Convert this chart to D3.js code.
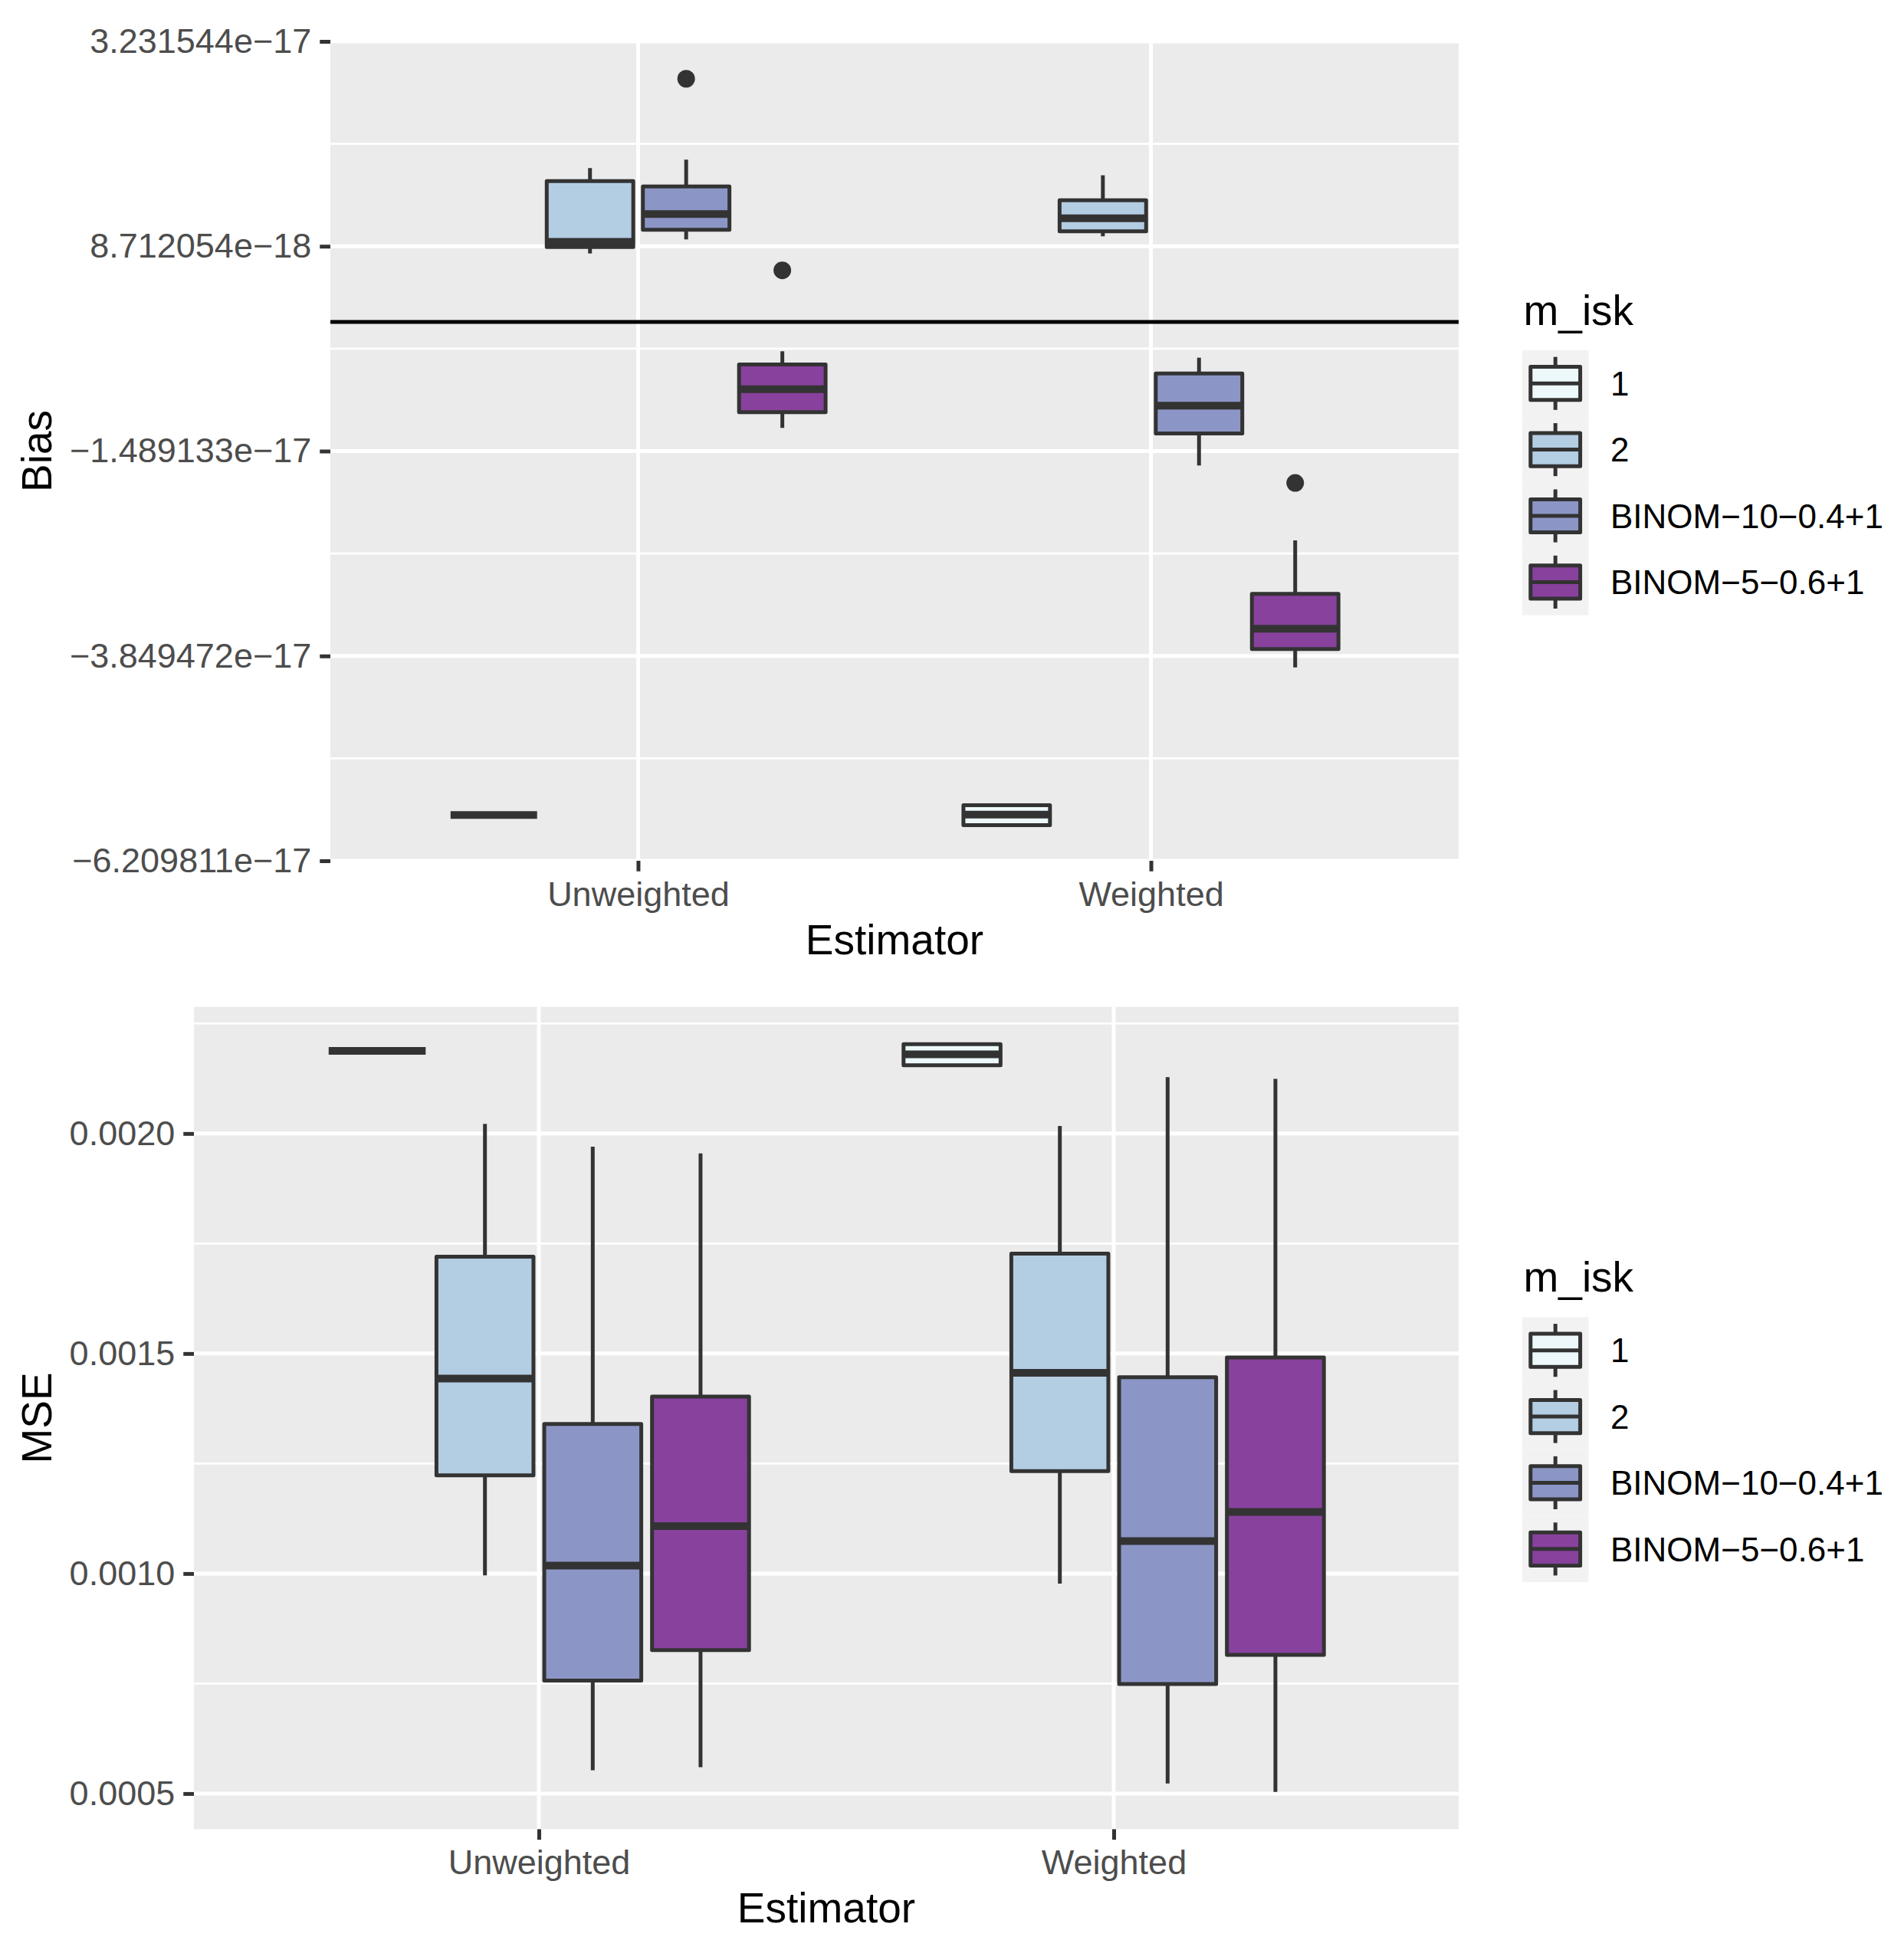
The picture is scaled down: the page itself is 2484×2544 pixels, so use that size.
<!DOCTYPE html>
<html>
<head>
<meta charset="utf-8">
<script src="https://cdn.jsdelivr.net/npm/d3@7"></script>
<style>
  body { margin: 0; background: #fff; }
  text { font-family: "Liberation Sans", Arial, Helvetica, sans-serif; }
</style>
</head>
<body>
<div id="container"></div>
<script>
// categories
const estimators = ["Unweighted", "Weighted"];
const mIsk = ["1", "2", "BINOM\u221210\u22120.4+1", "BINOM\u22125\u22120.6+1"];
const palette = ["#EDF8FB", "#B3CDE3", "#8C96C6", "#88419D"]; // BuPu

// Bias: per m_isk group [lower whisker, q1, median, q3, upper whisker]
const biasUnweighted = [
  [-5.683e-17, -5.683e-17, -5.683e-17, -5.683e-17, -5.683e-17],
  [0.788e-17, 0.863e-17, 0.922e-17, 1.622e-17, 1.772e-17],
  [0.950e-17, 1.061e-17, 1.243e-17, 1.561e-17, 1.869e-17],
  [-1.222e-17, -1.041e-17, -0.775e-17, -0.491e-17, -0.339e-17]
];
const biasWeighted = [
  [-5.800e-17, -5.800e-17, -5.677e-17, -5.569e-17, -5.569e-17],
  [0.986e-17, 1.043e-17, 1.194e-17, 1.402e-17, 1.689e-17],
  [-1.655e-17, -1.286e-17, -0.966e-17, -0.594e-17, -0.413e-17],
  [-3.982e-17, -3.770e-17, -3.536e-17, -3.134e-17, -2.518e-17]
];
// outliers: [estimator, group, value]
const biasOutliers = [
  ["Unweighted", 2, 2.801e-17],
  ["Unweighted", 3, 0.594e-17],
  ["Weighted", 3, -1.856e-17]
];
const biasTicks = [-6.209811e-17, -3.849472e-17, -1.489133e-17, 8.712054e-18, 3.231544e-17];
const biasTickLabels = ["\u22126.209811e\u221217", "\u22123.849472e\u221217", "\u22121.489133e\u221217", "8.712054e\u221218", "3.231544e\u221217"];

// MSE
const mseUnweighted = [
  [0.002188, 0.002188, 0.002188, 0.002188, 0.002188],
  [0.000996, 0.001223, 0.001443, 0.001720, 0.002022],
  [0.000553, 0.000757, 0.001018, 0.001340, 0.001970],
  [0.000560, 0.000826, 0.001108, 0.001402, 0.001955]
];
const mseWeighted = [
  [0.002155, 0.002155, 0.002180, 0.002203, 0.002203],
  [0.000977, 0.001233, 0.001456, 0.001727, 0.002017],
  [0.000523, 0.000749, 0.001074, 0.001446, 0.002128],
  [0.000504, 0.000815, 0.001140, 0.001491, 0.002124]
];
const mseTicks = [0.0005, 0.0010, 0.0015, 0.0020];
const mseTickLabels = ["0.0005", "0.0010", "0.0015", "0.0020"];

const width = 2484, height = 2544;
const svg = d3.select("#container").append("svg")
  .attr("width", width)
  .attr("height", height)
  .attr("viewBox", [0, 0, width, height]);

const dark = "#333333";
const lw = 5;

function drawPanel(p) {
  const g = svg.append("g");
  const x = d3.scalePoint().domain(estimators).range([p.left, p.right]).padding(0.6);
  const dodge = d3.scaleBand().domain(mIsk)
    .range([-0.375 * x.step(), 0.375 * x.step()])
    .paddingInner(0.1).paddingOuter(0.05);
  const y = d3.scaleLinear().domain(p.domain).range([p.bottom, p.top]);

  g.append("rect")
    .attr("x", p.left).attr("y", p.top)
    .attr("width", p.right - p.left).attr("height", p.bottom - p.top)
    .attr("fill", "#EBEBEB");

  // minor grid
  const majors = p.ticks;
  const step = majors[1] - majors[0];
  const minors = d3.range(-3, majors.length + 3).map(i => majors[0] + (i + 0.5) * step)
    .filter(v => v > p.domain[0] && v < p.domain[1]);
  g.append("g").selectAll("line").data(minors).join("line")
    .attr("x1", p.left).attr("x2", p.right)
    .attr("y1", d => y(d)).attr("y2", d => y(d))
    .attr("stroke", "#fff").attr("stroke-width", 2.6);
  g.append("g").selectAll("line").data(majors).join("line")
    .attr("x1", p.left).attr("x2", p.right)
    .attr("y1", d => y(d)).attr("y2", d => y(d))
    .attr("stroke", "#fff").attr("stroke-width", 5);
  g.append("g").selectAll("line").data(estimators).join("line")
    .attr("x1", d => x(d)).attr("x2", d => x(d))
    .attr("y1", p.top).attr("y2", p.bottom)
    .attr("stroke", "#fff").attr("stroke-width", 5);

  if (p.hline !== undefined) {
    g.append("line")
      .attr("x1", p.left).attr("x2", p.right)
      .attr("y1", y(p.hline)).attr("y2", y(p.hline))
      .attr("stroke", "#000").attr("stroke-width", 5);
  }

  const bw = dodge.bandwidth();
  estimators.forEach((est, ei) => {
    p.stats[ei].forEach((s, gi) => {
      const cx = x(est) + dodge(mIsk[gi]) + bw / 2;
      const bg = g.append("g");
      bg.append("line").attr("x1", cx).attr("x2", cx)
        .attr("y1", y(s[4])).attr("y2", y(s[3]))
        .attr("stroke", dark).attr("stroke-width", lw);
      bg.append("line").attr("x1", cx).attr("x2", cx)
        .attr("y1", y(s[1])).attr("y2", y(s[0]))
        .attr("stroke", dark).attr("stroke-width", lw);
      bg.append("rect")
        .attr("x", cx - bw / 2).attr("y", y(s[3]))
        .attr("width", bw).attr("height", Math.max(0, y(s[1]) - y(s[3])))
        .attr("fill", palette[gi]).attr("stroke", dark).attr("stroke-width", lw)
        .attr("stroke-linejoin", "round");
      bg.append("line").attr("x1", cx - bw / 2).attr("x2", cx + bw / 2)
        .attr("y1", y(s[2])).attr("y2", y(s[2]))
        .attr("stroke", dark).attr("stroke-width", lw * 2);
    });
  });

  g.append("g").selectAll("circle").data(p.outliers || []).join("circle")
    .attr("cx", d => x(d[0]) + dodge(mIsk[d[1]]) + bw / 2)
    .attr("cy", d => y(d[2]))
    .attr("r", 11.5)
    .attr("fill", dark);

  // axes
  const yAxis = g.append("g")
    .attr("transform", `translate(${p.left},0)`)
    .call(d3.axisLeft(y).tickValues(p.ticks).tickFormat((d, i) => p.tickLabels[i])
      .tickSize(13.75).tickPadding(11));
  const xAxis = g.append("g")
    .attr("transform", `translate(0,${p.bottom})`)
    .call(d3.axisBottom(x).tickSize(13.75).tickPadding(13));
  [yAxis, xAxis].forEach(a => {
    a.select(".domain").remove();
    a.selectAll(".tick line").attr("stroke", dark).attr("stroke-width", lw);
    a.selectAll(".tick text")
      .attr("fill", "#4D4D4D")
      .style("font-size", "45px")
      .style("font-family", "'Liberation Sans', Arial, sans-serif");
  });

  g.append("text")
    .attr("x", (p.left + p.right) / 2).attr("y", p.bottom + 122)
    .attr("text-anchor", "middle")
    .style("font-size", "55px")
    .text("Estimator");
  g.append("text")
    .attr("transform", `translate(67,${(p.top + p.bottom) / 2}) rotate(-90)`)
    .attr("text-anchor", "middle")
    .style("font-size", "55px")
    .text(p.yTitle);

  // legend
  const key = 86.4;
  const legTop = (p.top + p.bottom) / 2 - 131.5;
  const lg = g.append("g").attr("transform", `translate(1986,${legTop})`);
  lg.append("text").attr("x", 1.5).attr("y", -33)
    .style("font-size", "55px").text("m_isk");
  mIsk.forEach((m, i) => {
    const kg = lg.append("g").attr("transform", `translate(0,${i * key})`);
    kg.append("rect").attr("width", key).attr("height", key).attr("fill", "#F2F2F2");
    const c = key / 2;
    kg.append("line").attr("x1", c).attr("x2", c)
      .attr("y1", key * 0.1).attr("y2", key * 0.9)
      .attr("stroke", dark).attr("stroke-width", lw);
    kg.append("rect")
      .attr("x", key * 0.125).attr("y", key * 0.25)
      .attr("width", key * 0.75).attr("height", key * 0.5)
      .attr("fill", palette[i]).attr("stroke", dark).attr("stroke-width", lw)
      .attr("stroke-linejoin", "round");
    kg.append("line").attr("x1", key * 0.125).attr("x2", key * 0.875)
      .attr("y1", c).attr("y2", c)
      .attr("stroke", dark).attr("stroke-width", lw);
    kg.append("text").attr("x", 115).attr("y", c)
      .attr("dy", "0.36em")
      .style("font-size", "44px")
      .text(m);
  });
}

drawPanel({
  left: 431, right: 1903, top: 54, bottom: 1123,
  domain: [biasTicks[0], biasTicks[biasTicks.length - 1]],
  ticks: biasTicks, tickLabels: biasTickLabels,
  stats: [biasUnweighted, biasWeighted],
  outliers: biasOutliers,
  hline: 0,
  yTitle: "Bias"
});

const mseAll = mseUnweighted.concat(mseWeighted).flat();
const mseExt = d3.extent(mseAll);
const msePad = (mseExt[1] - mseExt[0]) * 0.05;
drawPanel({
  left: 253, right: 1903, top: 1313.5, bottom: 2386.4,
  domain: [mseExt[0] - msePad, mseExt[1] + msePad],
  ticks: mseTicks, tickLabels: mseTickLabels,
  stats: [mseUnweighted, mseWeighted],
  outliers: [],
  yTitle: "MSE"
});
</script>
</body>
</html>
